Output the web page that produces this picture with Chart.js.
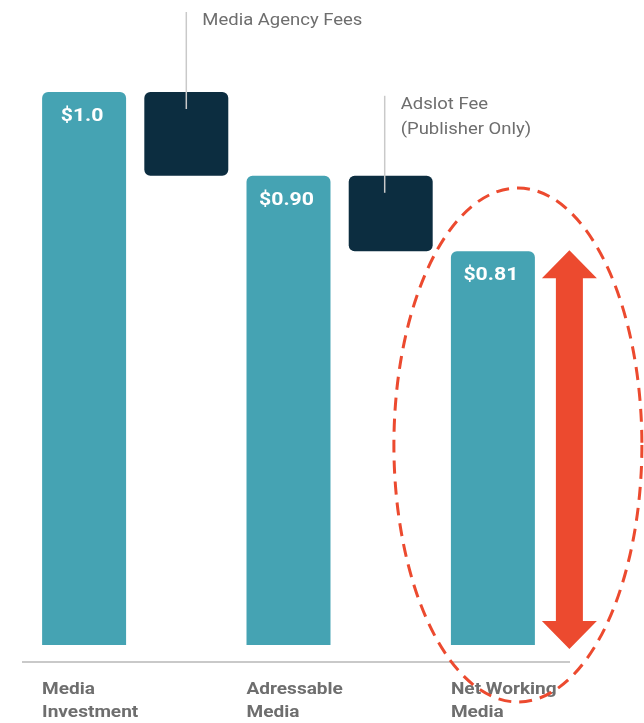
<!DOCTYPE html>
<html>
<head>
<meta charset="utf-8">
<script src="https://cdn.jsdelivr.net/npm/chart.js@4.4.1/dist/chart.umd.min.js"></script>
<style>
  body { margin: 0; background: #fff; }
  #chart { display: block; }
</style>
</head>
<body>
<canvas id="chart" width="644" height="723"></canvas>
<script>
// waterfall: investment -> fees -> what actually reaches the media
const categories = ['Media Investment', 'Media Agency Fees', 'Adressable Media', 'Adslot Fee', 'Net Working Media'];
const stageTotals = [1.0, 0.90, 0.81];
const feeAmounts = [0.10, 0.09];
const valueLabels = ['$1.0', '$0.90', '$0.81'];
const stageNames = [['Media', 'Investment'], ['Adressable', 'Media'], ['Net Working', 'Media']];
const feeNames = [['Media Agency Fees'], ['Adslot Fee', '(Publisher Only)']];
const yMin = 0.34;
const yMax = 1.0;

const TEAL = '#45a3b3';
const NAVY = '#0c2d40';
const RED = '#ec4a2f';
const GREY_TEXT = '#6e6e6e';
const GREY_LINE = '#c9c9c9';
const SX = 1.12; // text in this layout is set a little wide

// stage bars rise from the floor, fee bars float between two totals
const barData = [];
const barColors = [];
stageTotals.forEach((total, i) => {
  barData.push(total);
  barColors.push(TEAL);
  if (i < feeAmounts.length) {
    barData.push([total - feeAmounts[i], total]);
    barColors.push(NAVY);
  }
});

function wideText(ctx, text, x, y, align) {
  ctx.save();
  ctx.translate(x, y);
  ctx.scale(SX, 1);
  ctx.textAlign = align;
  ctx.fillText(text, 0, 0);
  ctx.restore();
}

const decorations = {
  id: 'decorations',
  afterDatasetsDraw(chart) {
    const ctx = chart.ctx;
    const bars = chart.getDatasetMeta(0).data;
    const area = chart.chartArea;
    const y = chart.scales.y;
    const stageBars = [bars[0], bars[2], bars[4]];
    const feeBars = [bars[1], bars[3]];

    ctx.save();
    ctx.textBaseline = 'middle';

    // value inside the top of each stage bar
    ctx.fillStyle = '#fff';
    ctx.font = 'bold 19px Roboto';
    stageBars.forEach((el, i) => {
      wideText(ctx, valueLabels[i], el.x - 2, el.y + 24, 'center');
    });

    // baseline rule
    ctx.strokeStyle = GREY_LINE;
    ctx.lineWidth = 2;
    ctx.beginPath();
    ctx.moveTo(22, area.bottom + 17);
    ctx.lineTo(570, area.bottom + 17);
    ctx.stroke();

    // category names under the stage bars, left aligned to the bar
    ctx.fillStyle = GREY_TEXT;
    ctx.font = 'bold 17px Roboto';
    stageBars.forEach((el, i) => {
      const left = el.x - el.width / 2;
      stageNames[i].forEach((line, j) => {
        wideText(ctx, line, left, area.bottom + 45 + j * 23, 'left');
      });
    });

    // fee callouts with leader lines dropping into the fee bars
    const leaderShift = [0, -6];
    ctx.font = '16.5px Roboto';
    feeBars.forEach((el, i) => {
      const lx = el.x + leaderShift[i];
      const top = el.y - 80;
      ctx.strokeStyle = GREY_LINE;
      ctx.lineWidth = 1.5;
      ctx.beginPath();
      ctx.moveTo(lx, top);
      ctx.lineTo(lx, el.y + 17);
      ctx.stroke();
      feeNames[i].forEach((line, j) => {
        wideText(ctx, line, lx + 16, top + 9 + j * 25, 'left');
      });
    });

    // double-headed arrow spanning the net working media bar
    const net = stageBars[2];
    const ax = net.x + net.width / 2 + 34.5;
    const top = y.getPixelForValue(stageTotals[2]) - 1;
    const bottom = area.bottom + 4;
    const headW = 27.5, headL = 28, shaftW = 13.5;
    ctx.fillStyle = RED;
    ctx.beginPath();
    ctx.moveTo(ax, top);
    ctx.lineTo(ax + headW, top + headL);
    ctx.lineTo(ax + shaftW, top + headL);
    ctx.lineTo(ax + shaftW, bottom - headL);
    ctx.lineTo(ax + headW, bottom - headL);
    ctx.lineTo(ax, bottom);
    ctx.lineTo(ax - headW, bottom - headL);
    ctx.lineTo(ax - shaftW, bottom - headL);
    ctx.lineTo(ax - shaftW, top + headL);
    ctx.lineTo(ax - headW, top + headL);
    ctx.closePath();
    ctx.fill();

    // dashed ring round the last stage
    ctx.strokeStyle = RED;
    ctx.lineWidth = 3;
    ctx.setLineDash([13, 8]);
    ctx.beginPath();
    ctx.ellipse(net.x + 25, area.bottom - 200, 124, 257, 0, 0, Math.PI * 2);
    ctx.stroke();
    ctx.restore();
  }
};

new Chart(document.getElementById('chart'), {
  type: 'bar',
  data: {
    labels: categories,
    datasets: [{
      data: barData,
      backgroundColor: barColors,
      borderRadius: 6,
      borderSkipped: false,
      barPercentage: 0.9,
      categoryPercentage: 0.913
    }]
  },
  options: {
    responsive: false,
    animation: false,
    devicePixelRatio: 1,
    layout: {
      padding: { left: 33, right: 100, top: 92, bottom: 78 }
    },
    plugins: {
      legend: { display: false },
      tooltip: { enabled: false }
    },
    scales: {
      x: { display: false },
      y: { display: false, min: yMin, max: yMax }
    }
  },
  plugins: [decorations]
});
</script>
</body>
</html>
